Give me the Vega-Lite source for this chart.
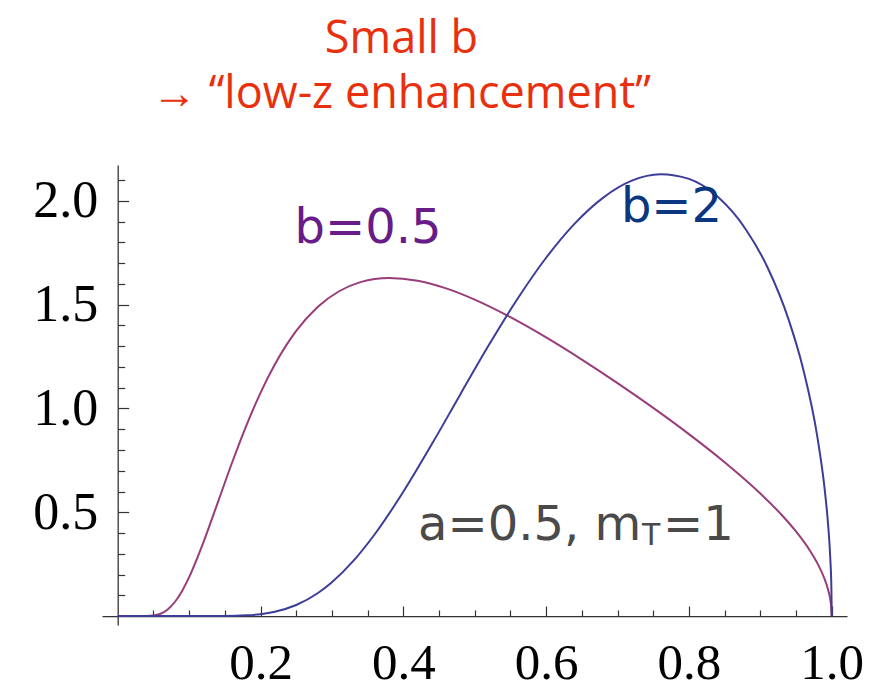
{
  "$schema": "https://vega.github.io/schema/vega-lite/v6.json",
  "width": 745,
  "height": 460,
  "autosize": "none",
  "padding": {"left": 102, "top": 165, "right": 22, "bottom": 62},
  "background": "white",
  "config": {"view": {"stroke": null}},
  "title": {
    "text": ["Small b", "→ “low-z enhancement”"],
    "font": "Open Sans",
    "fontSize": 45,
    "fontWeight": "normal",
    "color": "#e8300e",
    "anchor": "middle",
    "frame": "group",
    "dx": -73,
    "dy": 56,
    "offset": 48,
    "lineHeight": 55,
    "baseline": "bottom"
  },
  "datasets": {
    "curves": [
      {"z": 0, "f": 0, "b": "0.5"},
      {"z": 0.02, "f": 0, "b": "0.5"},
      {"z": 0.04, "f": 0.0003, "b": "0.5"},
      {"z": 0.05, "f": 0.0026, "b": "0.5"},
      {"z": 0.06, "f": 0.0114, "b": "0.5"},
      {"z": 0.07, "f": 0.0319, "b": "0.5"},
      {"z": 0.08, "f": 0.0678, "b": "0.5"},
      {"z": 0.09, "f": 0.1201, "b": "0.5"},
      {"z": 0.10, "f": 0.1873, "b": "0.5"},
      {"z": 0.12, "f": 0.3551, "b": "0.5"},
      {"z": 0.14, "f": 0.5456, "b": "0.5"},
      {"z": 0.16, "f": 0.7374, "b": "0.5"},
      {"z": 0.18, "f": 0.9166, "b": "0.5"},
      {"z": 0.20, "f": 1.0755, "b": "0.5"},
      {"z": 0.22, "f": 1.2115, "b": "0.5"},
      {"z": 0.25, "f": 1.3736, "b": "0.5"},
      {"z": 0.28, "f": 1.4890, "b": "0.5"},
      {"z": 0.31, "f": 1.5648, "b": "0.5"},
      {"z": 0.34, "f": 1.6088, "b": "0.5"},
      {"z": 0.38, "f": 1.6288, "b": "0.5"},
      {"z": 0.42, "f": 1.6155, "b": "0.5"},
      {"z": 0.46, "f": 1.5785, "b": "0.5"},
      {"z": 0.50, "f": 1.5244, "b": "0.5"},
      {"z": 0.55, "f": 1.4397, "b": "0.5"},
      {"z": 0.60, "f": 1.3423, "b": "0.5"},
      {"z": 0.65, "f": 1.2357, "b": "0.5"},
      {"z": 0.70, "f": 1.1224, "b": "0.5"},
      {"z": 0.75, "f": 1.0030, "b": "0.5"},
      {"z": 0.80, "f": 0.8767, "b": "0.5"},
      {"z": 0.85, "f": 0.7414, "b": "0.5"},
      {"z": 0.90, "f": 0.5907, "b": "0.5"},
      {"z": 0.93, "f": 0.4869, "b": "0.5"},
      {"z": 0.95, "f": 0.4075, "b": "0.5"},
      {"z": 0.97, "f": 0.3125, "b": "0.5"},
      {"z": 0.98, "f": 0.2539, "b": "0.5"},
      {"z": 0.99, "f": 0.1786, "b": "0.5"},
      {"z": 0.995, "f": 0.1260, "b": "0.5"},
      {"z": 0.999, "f": 0.0562, "b": "0.5"},
      {"z": 1.0, "f": 0, "b": "0.5"},
      {"z": 0, "f": 0, "b": "2"},
      {"z": 0.05, "f": 0, "b": "2"},
      {"z": 0.10, "f": 0, "b": "2"},
      {"z": 0.15, "f": 0.0005, "b": "2"},
      {"z": 0.18, "f": 0.0034, "b": "2"},
      {"z": 0.20, "f": 0.0093, "b": "2"},
      {"z": 0.22, "f": 0.0208, "b": "2"},
      {"z": 0.25, "f": 0.0533, "b": "2"},
      {"z": 0.28, "f": 0.1099, "b": "2"},
      {"z": 0.30, "f": 0.1630, "b": "2"},
      {"z": 0.33, "f": 0.2656, "b": "2"},
      {"z": 0.36, "f": 0.3943, "b": "2"},
      {"z": 0.40, "f": 0.5989, "b": "2"},
      {"z": 0.44, "f": 0.8284, "b": "2"},
      {"z": 0.48, "f": 1.0691, "b": "2"},
      {"z": 0.52, "f": 1.3068, "b": "2"},
      {"z": 0.56, "f": 1.5285, "b": "2"},
      {"z": 0.60, "f": 1.7261, "b": "2"},
      {"z": 0.64, "f": 1.8907, "b": "2"},
      {"z": 0.68, "f": 2.0160, "b": "2"},
      {"z": 0.72, "f": 2.0975, "b": "2"},
      {"z": 0.76, "f": 2.1286, "b": "2"},
      {"z": 0.80, "f": 2.1062, "b": "2"},
      {"z": 0.84, "f": 2.0209, "b": "2"},
      {"z": 0.88, "f": 1.8614, "b": "2"},
      {"z": 0.91, "f": 1.6804, "b": "2"},
      {"z": 0.94, "f": 1.4245, "b": "2"},
      {"z": 0.96, "f": 1.1907, "b": "2"},
      {"z": 0.98, "f": 0.8605, "b": "2"},
      {"z": 0.99, "f": 0.6149, "b": "2"},
      {"z": 0.995, "f": 0.4370, "b": "2"},
      {"z": 0.998, "f": 0.2773, "b": "2"},
      {"z": 0.9995, "f": 0.1389, "b": "2"},
      {"z": 1.0, "f": 0, "b": "2"}
    ]
  },
  "encoding": {
    "x": {
      "field": "z",
      "type": "quantitative",
      "scale": {"domain": [-0.022, 1.0214], "nice": false, "zero": false},
      "axis": {
        "title": null,
        "orient": "bottom",
        "offset": -8.9,
        "values": [0.05, 0.1, 0.15, 0.2, 0.25, 0.3, 0.35, 0.4, 0.45, 0.5, 0.55, 0.6, 0.65, 0.7, 0.75, 0.8, 0.85, 0.9, 0.95, 1.0],
        "ticks": false,
        "tickSize": 0,
        "grid": true,
        "gridColor": "#333333",
        "gridOpacity": 1,
        "gridWidth": 1.2,
        "gridDash": {"condition": {"test": "abs(datum.value*5-round(datum.value*5))<0.001", "value": [0, 441, 10, 2000]}, "value": [0, 445, 6, 2000]},
        "gridDashOffset": 0,
        "labelExpr": "abs(datum.value*5-round(datum.value*5))<0.001 ? format(datum.value,'.1f') : ''",
        "labelFont": "Liberation Serif",
        "labelFontSize": 51,
        "labelColor": "#000000",
        "labelBaseline": "alphabetic",
        "labelPadding": 62,
        "labelFlush": false,
        "labelOverlap": false,
        "domainColor": "#333333",
        "domainWidth": 1.3
      }
    },
    "y": {
      "field": "f",
      "type": "quantitative",
      "scale": {"domain": [-0.043, 2.173], "nice": false, "zero": false},
      "axis": {
        "title": null,
        "orient": "left",
        "offset": -15.7,
        "values": [0.1, 0.2, 0.3, 0.4, 0.5, 0.6, 0.7, 0.8, 0.9, 1.0, 1.1, 1.2, 1.3, 1.4, 1.5, 1.6, 1.7, 1.8, 1.9, 2.0, 2.1],
        "ticks": false,
        "tickSize": 0,
        "grid": true,
        "gridColor": "#333333",
        "gridOpacity": 1,
        "gridWidth": 1.2,
        "gridDash": {"condition": {"test": "abs(datum.value*2-round(datum.value*2))<0.001", "value": [11, 2000]}, "value": [7, 2004]},
        "gridDashOffset": 1995.3,
        "labelExpr": "abs(datum.value*2-round(datum.value*2))<0.001 ? format(datum.value,'.1f') : ''",
        "labelFont": "Liberation Serif",
        "labelFontSize": 52,
        "labelColor": "#000000",
        "labelBaseline": "middle",
        "labelPadding": 20,
        "labelFlush": false,
        "labelOverlap": false,
        "domainColor": "#333333",
        "domainWidth": 1.3
      }
    }
  },
  "layer": [
    {
      "data": {"name": "curves"},
      "mark": {"type": "line", "strokeWidth": 2, "interpolate": "monotone"},
      "encoding": {
        "color": {"field": "b", "type": "nominal", "scale": {"domain": ["0.5", "2"], "range": ["#993d7a", "#3d3d99"]}, "legend": null}
      }
    },
    {
      "data": {"values": [{"z": 0.3506, "f": 1.798, "label": "b=0.5"}]},
      "mark": {"type": "text", "font": "DejaVu Sans", "fontSize": 48, "color": "#671c87", "align": "center", "baseline": "alphabetic"},
      "encoding": {"text": {"field": "label"}}
    },
    {
      "data": {"values": [{"z": 0.7756, "f": 1.899, "label": "b=2"}]},
      "mark": {"type": "text", "font": "DejaVu Sans", "fontSize": 48, "color": "#0b3680", "align": "center", "baseline": "alphabetic"},
      "encoding": {"text": {"field": "label"}}
    },
    {
      "data": {"values": [{"z": 0.4206, "f": 0.366, "label": "a=0.5, m"}, {"z": 0.7637, "f": 0.366, "label": "=1"}]},
      "mark": {"type": "text", "font": "DejaVu Sans", "fontSize": 48, "color": "#4a4a4a", "align": "left", "baseline": "alphabetic"},
      "encoding": {"text": {"field": "label"}}
    },
    {
      "data": {"values": [{"z": 0.7343, "f": 0.342, "label": "T"}]},
      "mark": {"type": "text", "font": "DejaVu Sans", "fontSize": 30, "color": "#4a4a4a", "align": "left", "baseline": "alphabetic"},
      "encoding": {"text": {"field": "label"}}
    }
  ]
}
